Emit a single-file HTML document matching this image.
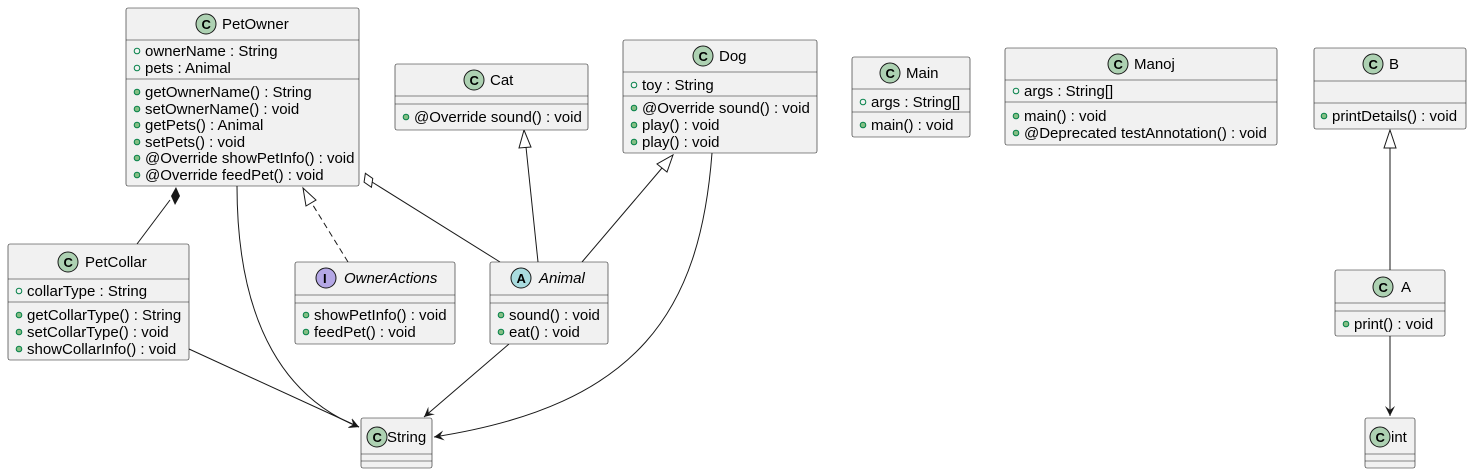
<!DOCTYPE html>
<html><head><meta charset="utf-8"><style>
body{margin:0;background:#fff}
svg{display:block}
text{font-family:"Liberation Sans",sans-serif;font-size:15px;fill:#000}
.b{fill:#F1F1F1;stroke:#181818;stroke-width:0.6}
.d{stroke:#181818;stroke-width:0.6}
.l{fill:none;stroke:#181818;stroke-width:1}
.fo{fill:none;stroke:#038048;stroke-width:1}
.mo{fill:#84BE84;stroke:#038048;stroke-width:1}
.cc{fill:#ADD1B2;stroke:#181818;stroke-width:1}
.ci{fill:#B4A7E5;stroke:#181818;stroke-width:1}
.ca{fill:#A9DCDF;stroke:#181818;stroke-width:1}
.g{font-weight:bold;font-size:13px}
</style></head><body>
<svg width="1474" height="474" viewBox="0 0 1474 474" xmlns="http://www.w3.org/2000/svg">
<defs>
<marker id="ar" markerWidth="12" markerHeight="12" refX="10" refY="5" orient="auto" markerUnits="userSpaceOnUse"><path d="M0,0 L10,5 L0,10 L4,5 Z" fill="#181818"/></marker>
</defs>

<!-- connectors -->
<path class="l" d="M137,244 L170,200"/>
<path d="M176,187 L180,196 L175,205 L171,196 Z" fill="#181818"/>
<path class="l" d="M237,186 C237,330 290,400 359,427" marker-end="url(#ar)"/>
<path class="l" d="M348,262 L311,202" stroke-dasharray="6,4"/>
<path d="M303,188 L316,200 L306,206 Z" fill="#fff" stroke="#181818"/>
<path class="l" d="M372,182 L500,262"/>
<path d="M362,176 L371,176 L375,184 L366,184 Z" fill="#fff" stroke="#181818" transform="rotate(35 368 180)"/>
<path class="l" d="M538,262 L526,147"/>
<path d="M524,130 L531,147 L519,148 Z" fill="#fff" stroke="#181818"/>
<path class="l" d="M582,262 L662,168"/>
<path d="M673,155 L667,172 L657,164 Z" fill="#fff" stroke="#181818"/>
<path class="l" d="M712,153 C700,310 640,405 434,437" marker-end="url(#ar)"/>
<path class="l" d="M189,349 L359,427" marker-end="url(#ar)"/>
<path class="l" d="M509,344 L424,417" marker-end="url(#ar)"/>
<path class="l" d="M1390,270 L1390,148"/>
<path d="M1390,130 L1396,148 L1384,148 Z" fill="#fff" stroke="#181818"/>
<path class="l" d="M1390,336 L1390,416" marker-end="url(#ar)"/>

<!-- PetOwner -->
<rect class="b" x="126" y="8" width="233" height="178" rx="2"/>
<circle class="cc" cx="206" cy="24" r="10"/><text class="g" x="201.5" y="29">C</text>
<text x="222" y="29">PetOwner</text>
<line class="d" x1="126" y1="40" x2="359" y2="40"/>
<circle class="fo" cx="137" cy="51" r="2.8"/><text x="145" y="56">ownerName : String</text>
<circle class="fo" cx="137" cy="68" r="2.8"/><text x="145" y="73">pets : Animal</text>
<line class="d" x1="126" y1="79" x2="359" y2="79"/>
<circle class="mo" cx="137" cy="92" r="2.8"/><text x="145" y="97">getOwnerName() : String</text>
<circle class="mo" cx="137" cy="109" r="2.8"/><text x="145" y="114">setOwnerName() : void</text>
<circle class="mo" cx="137" cy="125" r="2.8"/><text x="145" y="130">getPets() : Animal</text>
<circle class="mo" cx="137" cy="142" r="2.8"/><text x="145" y="147">setPets() : void</text>
<circle class="mo" cx="137" cy="158" r="2.8"/><text x="145" y="163">@Override showPetInfo() : void</text>
<circle class="mo" cx="137" cy="175" r="2.8"/><text x="145" y="180">@Override feedPet() : void</text>

<!-- Cat -->
<rect class="b" x="395" y="64" width="193" height="66" rx="2"/>
<circle class="cc" cx="474" cy="80" r="10"/><text class="g" x="469.5" y="85">C</text>
<text x="490" y="85">Cat</text>
<line class="d" x1="395" y1="96" x2="588" y2="96"/>
<line class="d" x1="395" y1="104" x2="588" y2="104"/>
<circle class="mo" cx="406" cy="117" r="2.8"/><text x="414" y="122">@Override sound() : void</text>

<!-- Dog -->
<rect class="b" x="623" y="40" width="194" height="113" rx="2"/>
<circle class="cc" cx="703" cy="56" r="10"/><text class="g" x="698.5" y="61">C</text>
<text x="719" y="61">Dog</text>
<line class="d" x1="623" y1="72" x2="817" y2="72"/>
<circle class="fo" cx="634" cy="85" r="2.8"/><text x="642" y="90">toy : String</text>
<line class="d" x1="623" y1="96" x2="817" y2="96"/>
<circle class="mo" cx="634" cy="108" r="2.8"/><text x="642" y="113">@Override sound() : void</text>
<circle class="mo" cx="634" cy="125" r="2.8"/><text x="642" y="130">play() : void</text>
<circle class="mo" cx="634" cy="142" r="2.8"/><text x="642" y="147">play() : void</text>

<!-- Main -->
<rect class="b" x="852" y="57" width="118" height="80" rx="2"/>
<circle class="cc" cx="890" cy="73" r="10"/><text class="g" x="885.5" y="78">C</text>
<text x="906" y="78">Main</text>
<line class="d" x1="852" y1="89" x2="970" y2="89"/>
<circle class="fo" cx="863" cy="102" r="2.8"/><text x="871" y="107">args : String[]</text>
<line class="d" x1="852" y1="112" x2="970" y2="112"/>
<circle class="mo" cx="863" cy="125" r="2.8"/><text x="871" y="130">main() : void</text>

<!-- Manoj -->
<rect class="b" x="1005" y="48" width="272" height="97" rx="2"/>
<circle class="cc" cx="1118" cy="64" r="10"/><text class="g" x="1113.5" y="69">C</text>
<text x="1134" y="69">Manoj</text>
<line class="d" x1="1005" y1="80" x2="1277" y2="80"/>
<circle class="fo" cx="1016" cy="91" r="2.8"/><text x="1024" y="96">args : String[]</text>
<line class="d" x1="1005" y1="102" x2="1277" y2="102"/>
<circle class="mo" cx="1016" cy="116" r="2.8"/><text x="1024" y="121">main() : void</text>
<circle class="mo" cx="1016" cy="133" r="2.8"/><text x="1024" y="138">@Deprecated testAnnotation() : void</text>

<!-- B -->
<rect class="b" x="1314" y="48" width="152" height="81" rx="2"/>
<circle class="cc" cx="1373" cy="64" r="10"/><text class="g" x="1368.5" y="69">C</text>
<text x="1389" y="69">B</text>
<line class="d" x1="1314" y1="81" x2="1466" y2="81"/>
<line class="d" x1="1314" y1="103" x2="1466" y2="103"/>
<circle class="mo" cx="1324" cy="116" r="2.8"/><text x="1332" y="121">printDetails() : void</text>

<!-- PetCollar -->
<rect class="b" x="8" y="244" width="181" height="116" rx="2"/>
<circle class="cc" cx="68" cy="262" r="10"/><text class="g" x="63.5" y="267">C</text>
<text x="85" y="267">PetCollar</text>
<line class="d" x1="8" y1="279" x2="189" y2="279"/>
<circle class="fo" cx="19" cy="291" r="2.8"/><text x="27" y="296">collarType : String</text>
<line class="d" x1="8" y1="302" x2="189" y2="302"/>
<circle class="mo" cx="19" cy="315" r="2.8"/><text x="27" y="320">getCollarType() : String</text>
<circle class="mo" cx="19" cy="332" r="2.8"/><text x="27" y="337">setCollarType() : void</text>
<circle class="mo" cx="19" cy="349" r="2.8"/><text x="27" y="354">showCollarInfo() : void</text>

<!-- OwnerActions -->
<rect class="b" x="295" y="262" width="160" height="82" rx="2"/>
<circle class="ci" cx="326" cy="278" r="10"/><text class="g" x="323" y="283">I</text>
<text x="344" y="283" font-style="italic">OwnerActions</text>
<line class="d" x1="295" y1="295" x2="455" y2="295"/>
<line class="d" x1="295" y1="303" x2="455" y2="303"/>
<circle class="mo" cx="306" cy="315" r="2.8"/><text x="314" y="320">showPetInfo() : void</text>
<circle class="mo" cx="306" cy="332" r="2.8"/><text x="314" y="337">feedPet() : void</text>

<!-- Animal -->
<rect class="b" x="490" y="262" width="118" height="82" rx="2"/>
<circle class="ca" cx="521" cy="278" r="10"/><text class="g" x="516.5" y="283">A</text>
<text x="539" y="283" font-style="italic">Animal</text>
<line class="d" x1="490" y1="295" x2="608" y2="295"/>
<line class="d" x1="490" y1="303" x2="608" y2="303"/>
<circle class="mo" cx="501" cy="315" r="2.8"/><text x="509" y="320">sound() : void</text>
<circle class="mo" cx="501" cy="332" r="2.8"/><text x="509" y="337">eat() : void</text>

<!-- String -->
<rect class="b" x="361" y="418" width="71" height="50" rx="2"/>
<circle class="cc" cx="377" cy="437" r="10"/><text class="g" x="372.5" y="442">C</text>
<text x="387" y="442">String</text>
<line class="d" x1="361" y1="454" x2="432" y2="454"/>
<line class="d" x1="361" y1="461" x2="432" y2="461"/>

<!-- A -->
<rect class="b" x="1335" y="270" width="110" height="66" rx="2"/>
<circle class="cc" cx="1383" cy="287" r="10"/><text class="g" x="1378.5" y="292">C</text>
<text x="1401" y="292">A</text>
<line class="d" x1="1335" y1="303" x2="1445" y2="303"/>
<line class="d" x1="1335" y1="311" x2="1445" y2="311"/>
<circle class="mo" cx="1346" cy="324" r="2.8"/><text x="1354" y="329">print() : void</text>

<!-- int -->
<rect class="b" x="1365" y="418" width="50" height="50" rx="2"/>
<circle class="cc" cx="1380" cy="437" r="10"/><text class="g" x="1375.5" y="442">C</text>
<text x="1391" y="442">int</text>
<line class="d" x1="1365" y1="454" x2="1415" y2="454"/>
<line class="d" x1="1365" y1="461" x2="1415" y2="461"/>
</svg>
</body></html>
